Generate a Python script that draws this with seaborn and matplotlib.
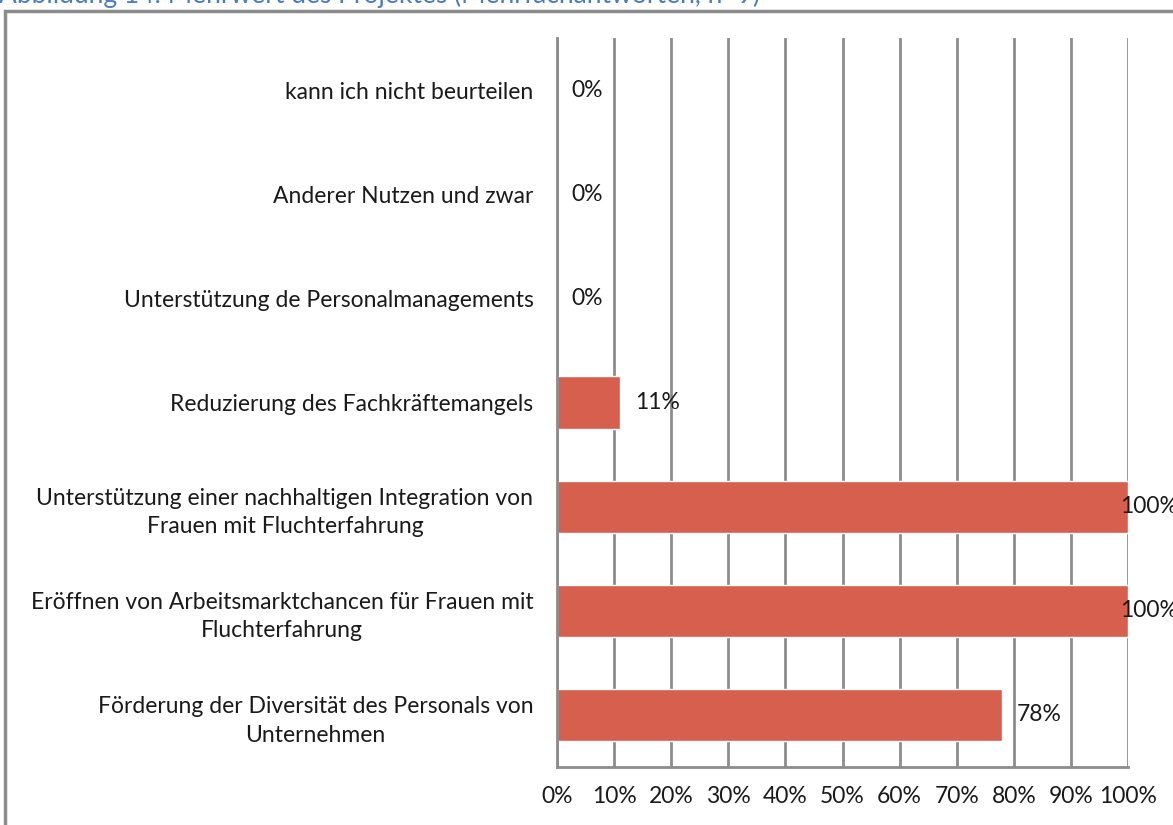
#!/usr/bin/env python3
import pandas as pd
import seaborn as sns
import matplotlib.pyplot as plt
from matplotlib.patches import Rectangle
from matplotlib.ticker import FixedLocator, PercentFormatter

# Data
categories = [
    "kann ich nicht beurteilen",
    "Anderer Nutzen und zwar",
    "Unterstützung de Personalmanagements",
    "Reduzierung des Fachkräftemangels",
    "Unterstützung einer nachhaltigen Integration von\nFrauen mit Fluchterfahrung",
    "Eröffnen von Arbeitsmarktchancen für Frauen mit\nFluchterfahrung",
    "Förderung der Diversität des Personals von\nUnternehmen",
]
shares = [0.0, 0.0, 0.0, 0.11, 1.0, 1.0, 0.78]
x_ticks = [0.0, 0.1, 0.2, 0.3, 0.4, 0.5, 0.6, 0.7, 0.8, 0.9, 1.0]
title = "Abbildung 14: Mehrwert des Projektes (Mehrfachantworten, n=9)"

df = pd.DataFrame({"Kategorie": categories, "Anteil": shares})

sns.set_style("white")
plt.rcParams['font.family'] = ['Lato', 'DejaVu Sans']

grey = "#8c8c8c"
bar_color = "#d65f4e"
text_color = "#1a1a1a"
fsize = 16.5

fig = plt.figure(figsize=(11.73, 8.25), dpi=100)
ax = fig.add_axes([557 / 1173, 1 - 767 / 825, 571 / 1173, (767 - 38) / 825])

sns.barplot(data=df, x="Anteil", y="Kategorie", orient="h", color=bar_color,
            width=0.5, saturation=1, ax=ax)

ax.set_xlim(0, 1)
ax.set_ylim(len(categories) - 0.5, -0.5)
ax.set_xlabel("")
ax.set_ylabel("")

# vertical grid lines
ax.set_xticks(x_ticks)
ax.xaxis.set_major_formatter(PercentFormatter(1.0, decimals=0))
ax.grid(axis="x", color=grey, linewidth=2)
ax.grid(axis="y", visible=False)
ax.set_axisbelow(True)

for side in ["top", "right"]:
    ax.spines[side].set_visible(False)
for side in ["left", "bottom"]:
    ax.spines[side].set_color(grey)
    ax.spines[side].set_linewidth(2)

ax.tick_params(axis="x", which="major", direction="out", length=7, width=2,
               color=grey, pad=7, labelsize=fsize, labelcolor=text_color)
ax.tick_params(axis="y", which="major", length=0, pad=17, labelsize=fsize,
               labelcolor=text_color)
ax.yaxis.set_minor_locator(FixedLocator([i - 0.5 for i in range(len(categories) + 1)]))
ax.tick_params(axis="y", which="minor", direction="out", length=7, width=2, color=grey)

for lbl in ax.get_yticklabels():
    lbl.set_multialignment("center")
    lbl.set_linespacing(1.45)

# value labels
for i, v in enumerate(shares):
    ax.text(min(v + 0.026, 0.986), i, f"{v * 100:.0f}%", va="center", ha="left",
            fontsize=fsize, color=text_color, clip_on=False)

# outer frame and clipped caption
fig.patches.append(Rectangle((5 / 1173, -0.1), 1.2, 1 - 11 / 825 + 0.1,
                             transform=fig.transFigure, fill=False,
                             edgecolor=grey, linewidth=2.5))
fig.text(-0.001, 1 - 3 / 825, title, color="#4a7ebb", fontsize=19,
         ha="left", va="baseline")

plt.savefig("out.png", dpi=100)
